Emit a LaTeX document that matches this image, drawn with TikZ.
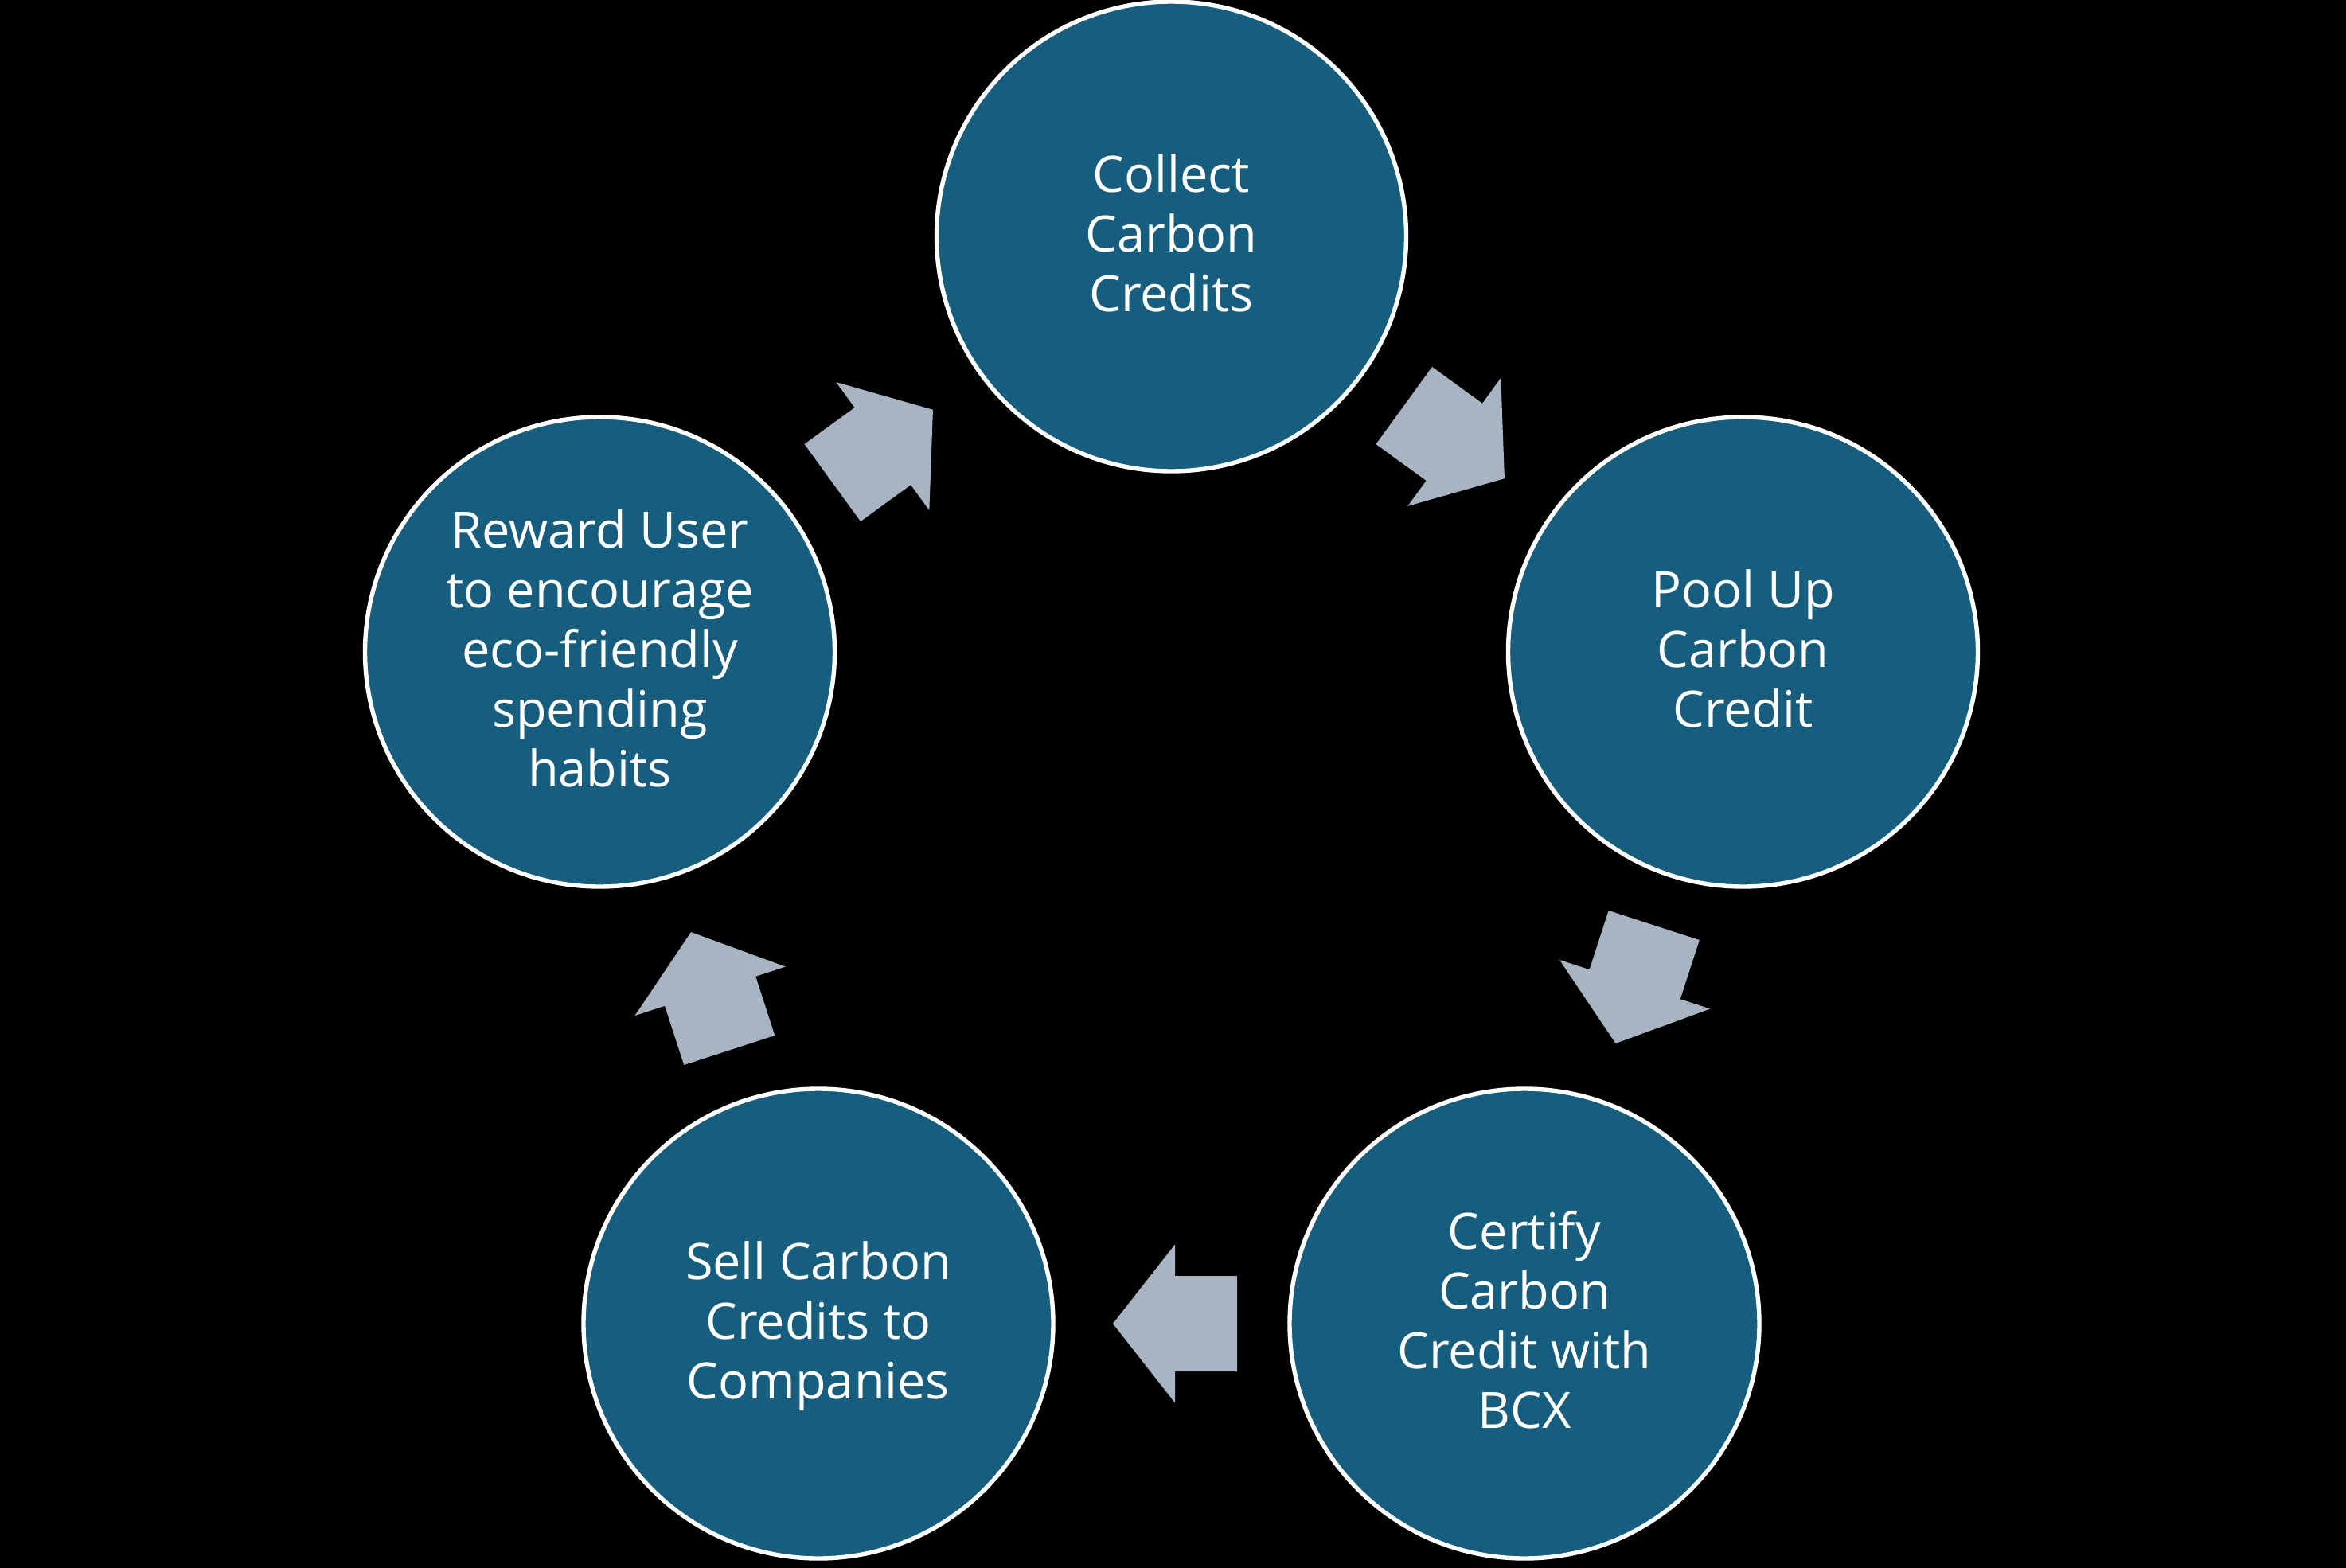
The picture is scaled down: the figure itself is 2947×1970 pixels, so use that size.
\documentclass[tikz,border=0pt]{standalone}
\usepackage{fontspec}
\setmainfont{Open Sans}
\usetikzlibrary{calc}
\definecolor{circfill}{RGB}{23,94,126}
\definecolor{arrowc}{RGB}{168,180,193}
\tikzset{
  stage/.style={circle, fill=circfill, draw=white, line width=1.35pt,
    minimum size=147.5pt, inner sep=0pt},
  stagetext/.style={align=center, text=white, inner sep=0pt, yshift=1.1pt,
    font=\fontsize{15.75}{18.75}\selectfont},
  blockarrow/.pic={
    \fill[arrowc] (-82.5,-60) -- (-4.5,-60) -- (-4.5,-99.5) -- (73.5,0) -- (-4.5,99.5) -- (-4.5,60) -- (-82.5,60) -- cycle;
  }
}
\begin{document}
\begin{tikzpicture}[x=0.25pt,y=-0.25pt]
\useasboundingbox (0,0) rectangle (2947,1970);
\fill[black] (0,0) rectangle (2947,1970);
\node[stage, label={[stagetext]center:{Collect\\Carbon\\Credits}}] (c1) at (1471.5,297) {};
\node[stage, label={[stagetext]center:{Pool Up\\Carbon\\Credit}}] (c2) at (2189.5,819) {};
\node[stage, label={[stagetext]center:{Certify\\Carbon\\Credit with\\BCX}}] (c3) at (1915,1663) {};
\node[stage, label={[stagetext, yshift=-1.8pt]center:{Sell Carbon\\Credits to\\Companies}}] (c4) at (1028,1663) {};
\node[stage, label={[stagetext]center:{Reward User\\to encourage\\eco-friendly\\spending\\habits}}] (c5) at (753.5,819) {};
\path ($(c1)!0.5!(c2)$) pic[rotate=-36] {blockarrow};
\path ($(c2)!0.5!(c3)$) pic[rotate=-108] {blockarrow};
\path ($(c3)!0.5!(c4)$) pic[rotate=180] {blockarrow};
\path ($(c4)!0.5!(c5)$) pic[rotate=108] {blockarrow};
\path ($(c5)!0.5!(c1)$) pic[rotate=36] {blockarrow};
\end{tikzpicture}
\end{document}
